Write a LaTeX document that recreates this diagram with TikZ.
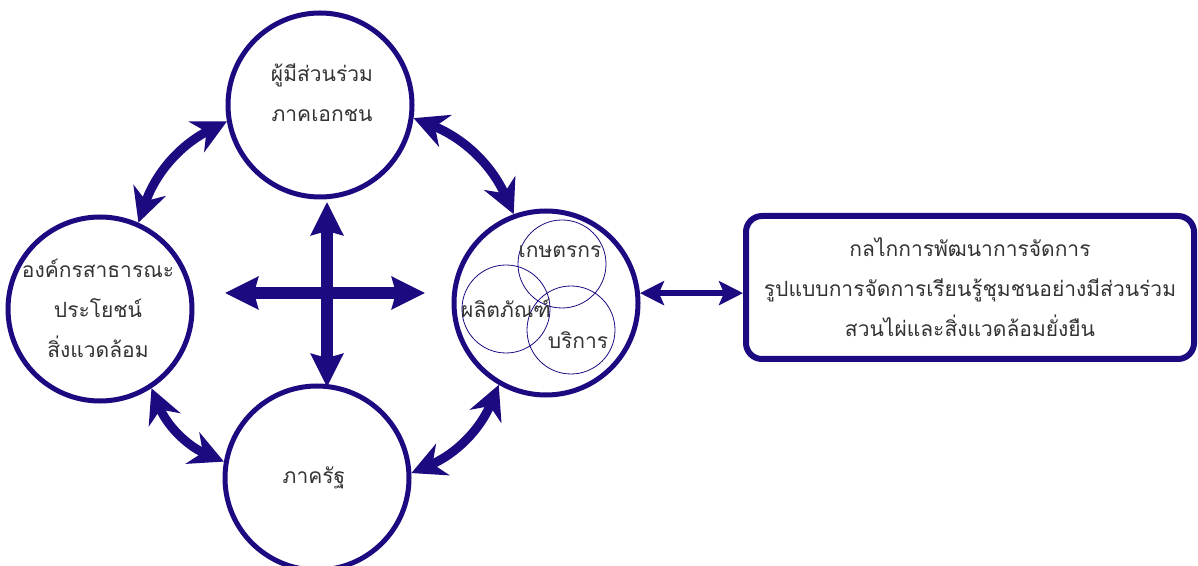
\documentclass[tikz,border=0pt]{standalone}
\usepackage{fontspec}
\newfontfamily\thaifont[Script=Thai]{Loma}
\usetikzlibrary{arrows.meta}
\definecolor{navy}{RGB}{27,10,128}
\definecolor{txt}{RGB}{51,51,51}

\begin{document}
\begin{tikzpicture}[x=1pt, y=1pt, every node/.style={text=txt, align=center, font=\thaifont\fontsize{21}{40}\selectfont}, ring/.style={draw=navy, line width=5pt, circle, minimum size=184pt, inner sep=0pt}, subring/.style={draw=navy, line width=0.8pt, circle, minimum size=88pt, inner sep=0pt}, link/.style={navy, line width=9pt, {Stealth[length=34pt,width=34pt,inset=11pt]}-{Stealth[length=34pt,width=34pt,inset=11pt]}}, cross/.style={navy, line width=12pt, {Stealth[length=33pt,width=32pt,inset=4pt]}-{Stealth[length=33pt,width=32pt,inset=4pt]}}, arrow/.style={navy, line width=6pt, {Stealth[length=24pt,width=24pt,inset=5pt]}-{Stealth[length=24pt,width=24pt,inset=5pt]}}]
      \useasboundingbox (0,0) rectangle (1198,565);
      \node[ring] (priv) at (320,460) {}; \node[ring] (pub) at (100,256) {};
      \node[ring] (prod) at (546,262) {}; \node[ring] (state) at (317,87) {};
      \node (privtxt) at (322,472) {ผู้มีส่วนร่วม\\ภาคเอกชน};
      \node (pubtxt) at (98,257) {องค์กรสาธารณะ\\ประโยชน์\\สิ่งแวดล้อม};
      \node (statetxt) at (314,87) {ภาครัฐ};

      % three circles inside the product ring
      \node[subring] (farm) at (562,301) {}; \node[subring] (goods) at (506,256) {};
      \node[subring] (serv) at (571,235) {};
      \node (farmtxt) at (560,313) {เกษตรกร}; \node (goodstxt) at (506,257) {ผลิตภัณฑ์};
      \node (servtxt) at (578,225) {บริการ};

      \node[draw=navy, line width=6pt, rounded corners=16pt, minimum width=448pt, minimum height=143pt] (mech) at (970,277.5) {กลไกการพัฒนาการจัดการ\\รูปแบบการจัดการเรียนรู้ชุมชนอย่างมีส่วนร่วม\\สวนไผ่และสิ่งแวดล้อมยั่งยืน};

      \coordinate (cn) at (327,363); \coordinate (cs) at (327,178);
      \coordinate (cw) at (225,272); \coordinate (ce) at (425,272);

      \draw[link] (pub.66) to[bend left=22] (priv.190); \draw[link] (priv.-8)
      to[bend left=22] (prod.110); \draw[link] (prod.240) to[bend left=22]
      (state.3); \draw[link] (state.170) to[bend left=22] (pub.-57);
      \draw[cross] (cn) -- (cs); \draw[cross] (cw) -- (ce);
      \draw[arrow] (prod.6) -- (prod.6 -| mech.west);
    \end{tikzpicture}
\end{document}
